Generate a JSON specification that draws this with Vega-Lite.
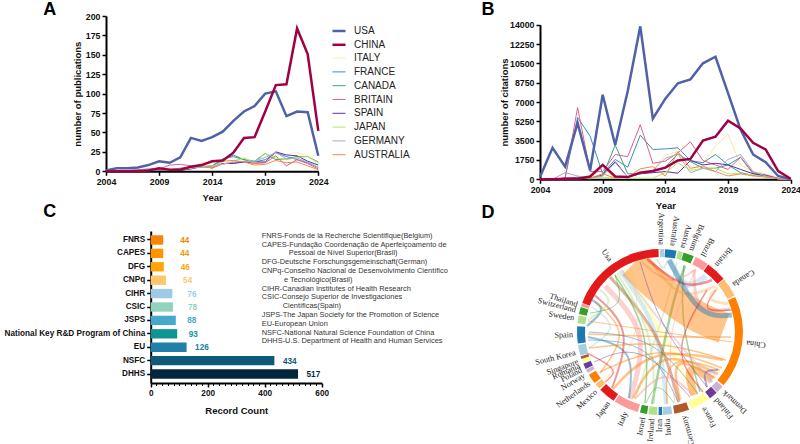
{"$schema":"https://vega.github.io/schema/vega-lite/v6.json","width":800,"height":444,"padding":0,"autosize":{"type":"none"},"background":"white",
"config":{"view":{"stroke":null},"text":{"font":"Liberation Sans"},"axis":{"grid":false,"domainColor":"#000","domainWidth":2,"tickColor":"#000","tickWidth":1.5,"tickSize":4,"labelFont":"Liberation Sans","labelFontWeight":"bold","labelFontSize":8.8,"labelColor":"#111","titleFont":"Liberation Sans","titleFontWeight":"bold","titleFontSize":9.5,"titleColor":"#111","labelOverlap":false,"labelFlush":false}},
"datasets":{
"trend":[
{"year":2004,"country":"ITALY","pubs":0,"cites":0},{"year":2005,"country":"ITALY","pubs":0,"cites":0},{"year":2006,"country":"ITALY","pubs":1,"cites":50},{"year":2007,"country":"ITALY","pubs":1,"cites":50},{"year":2008,"country":"ITALY","pubs":2,"cites":100},{"year":2009,"country":"ITALY","pubs":2,"cites":1000},{"year":2010,"country":"ITALY","pubs":3,"cites":100},{"year":2011,"country":"ITALY","pubs":4,"cites":100},{"year":2012,"country":"ITALY","pubs":6,"cites":700},{"year":2013,"country":"ITALY","pubs":11,"cites":800},{"year":2014,"country":"ITALY","pubs":11,"cites":2200},{"year":2015,"country":"ITALY","pubs":14,"cites":2500},{"year":2016,"country":"ITALY","pubs":14,"cites":900},{"year":2017,"country":"ITALY","pubs":18,"cites":1400},{"year":2018,"country":"ITALY","pubs":12,"cites":3000},{"year":2019,"country":"ITALY","pubs":14,"cites":4100},{"year":2020,"country":"ITALY","pubs":22,"cites":1300},{"year":2021,"country":"ITALY","pubs":22,"cites":700},{"year":2022,"country":"ITALY","pubs":24,"cites":500},{"year":2023,"country":"ITALY","pubs":20,"cites":100},{"year":2024,"country":"ITALY","pubs":8,"cites":0},
{"year":2004,"country":"FRANCE","pubs":0,"cites":0},{"year":2005,"country":"FRANCE","pubs":1,"cites":0},{"year":2006,"country":"FRANCE","pubs":1,"cites":100},{"year":2007,"country":"FRANCE","pubs":2,"cites":5600},{"year":2008,"country":"FRANCE","pubs":3,"cites":3900},{"year":2009,"country":"FRANCE","pubs":3,"cites":500},{"year":2010,"country":"FRANCE","pubs":2,"cites":1800},{"year":2011,"country":"FRANCE","pubs":4,"cites":1100},{"year":2012,"country":"FRANCE","pubs":5,"cites":4000},{"year":2013,"country":"FRANCE","pubs":5,"cites":2700},{"year":2014,"country":"FRANCE","pubs":7,"cites":2750},{"year":2015,"country":"FRANCE","pubs":16,"cites":2850},{"year":2016,"country":"FRANCE","pubs":19,"cites":1700},{"year":2017,"country":"FRANCE","pubs":15,"cites":1500},{"year":2018,"country":"FRANCE","pubs":12,"cites":2250},{"year":2019,"country":"FRANCE","pubs":15,"cites":1300},{"year":2020,"country":"FRANCE","pubs":24,"cites":2000},{"year":2021,"country":"FRANCE","pubs":19,"cites":500},{"year":2022,"country":"FRANCE","pubs":15,"cites":350},{"year":2023,"country":"FRANCE","pubs":11,"cites":50},{"year":2024,"country":"FRANCE","pubs":5,"cites":0},
{"year":2004,"country":"CANADA","pubs":0,"cites":0},{"year":2005,"country":"CANADA","pubs":1,"cites":0},{"year":2006,"country":"CANADA","pubs":1,"cites":50},{"year":2007,"country":"CANADA","pubs":1,"cites":200},{"year":2008,"country":"CANADA","pubs":2,"cites":100},{"year":2009,"country":"CANADA","pubs":2,"cites":300},{"year":2010,"country":"CANADA","pubs":1,"cites":3100},{"year":2011,"country":"CANADA","pubs":2,"cites":500},{"year":2012,"country":"CANADA","pubs":5,"cites":500},{"year":2013,"country":"CANADA","pubs":6,"cites":700},{"year":2014,"country":"CANADA","pubs":7,"cites":1100},{"year":2015,"country":"CANADA","pubs":14,"cites":2300},{"year":2016,"country":"CANADA","pubs":21,"cites":1600},{"year":2017,"country":"CANADA","pubs":15,"cites":1000},{"year":2018,"country":"CANADA","pubs":13,"cites":1000},{"year":2019,"country":"CANADA","pubs":23,"cites":1300},{"year":2020,"country":"CANADA","pubs":15,"cites":600},{"year":2021,"country":"CANADA","pubs":16,"cites":350},{"year":2022,"country":"CANADA","pubs":19,"cites":300},{"year":2023,"country":"CANADA","pubs":19,"cites":50},{"year":2024,"country":"CANADA","pubs":12,"cites":0},
{"year":2004,"country":"BRITAIN","pubs":0,"cites":0},{"year":2005,"country":"BRITAIN","pubs":1,"cites":0},{"year":2006,"country":"BRITAIN","pubs":1,"cites":100},{"year":2007,"country":"BRITAIN","pubs":2,"cites":6500},{"year":2008,"country":"BRITAIN","pubs":2,"cites":700},{"year":2009,"country":"BRITAIN","pubs":3,"cites":700},{"year":2010,"country":"BRITAIN","pubs":8,"cites":2250},{"year":2011,"country":"BRITAIN","pubs":9,"cites":2050},{"year":2012,"country":"BRITAIN","pubs":7,"cites":4950},{"year":2013,"country":"BRITAIN","pubs":7,"cites":1450},{"year":2014,"country":"BRITAIN","pubs":4,"cites":1650},{"year":2015,"country":"BRITAIN","pubs":10,"cites":2400},{"year":2016,"country":"BRITAIN","pubs":11,"cites":3400},{"year":2017,"country":"BRITAIN","pubs":12,"cites":1700},{"year":2018,"country":"BRITAIN","pubs":10,"cites":1300},{"year":2019,"country":"BRITAIN","pubs":11,"cites":900},{"year":2020,"country":"BRITAIN","pubs":20,"cites":2000},{"year":2021,"country":"BRITAIN","pubs":7,"cites":600},{"year":2022,"country":"BRITAIN","pubs":15,"cites":400},{"year":2023,"country":"BRITAIN","pubs":10,"cites":100},{"year":2024,"country":"BRITAIN","pubs":3,"cites":0},
{"year":2004,"country":"SPAIN","pubs":0,"cites":0},{"year":2005,"country":"SPAIN","pubs":0,"cites":0},{"year":2006,"country":"SPAIN","pubs":0,"cites":100},{"year":2007,"country":"SPAIN","pubs":1,"cites":100},{"year":2008,"country":"SPAIN","pubs":1,"cites":100},{"year":2009,"country":"SPAIN","pubs":1,"cites":400},{"year":2010,"country":"SPAIN","pubs":1,"cites":1600},{"year":2011,"country":"SPAIN","pubs":1,"cites":200},{"year":2012,"country":"SPAIN","pubs":3,"cites":500},{"year":2013,"country":"SPAIN","pubs":6,"cites":600},{"year":2014,"country":"SPAIN","pubs":5,"cites":700},{"year":2015,"country":"SPAIN","pubs":10,"cites":550},{"year":2016,"country":"SPAIN","pubs":10,"cites":1700},{"year":2017,"country":"SPAIN","pubs":12,"cites":1300},{"year":2018,"country":"SPAIN","pubs":12,"cites":1450},{"year":2019,"country":"SPAIN","pubs":12,"cites":1300},{"year":2020,"country":"SPAIN","pubs":25,"cites":900},{"year":2021,"country":"SPAIN","pubs":21,"cites":500},{"year":2022,"country":"SPAIN","pubs":20,"cites":350},{"year":2023,"country":"SPAIN","pubs":13,"cites":50},{"year":2024,"country":"SPAIN","pubs":8,"cites":0},
{"year":2004,"country":"JAPAN","pubs":0,"cites":0},{"year":2005,"country":"JAPAN","pubs":0,"cites":0},{"year":2006,"country":"JAPAN","pubs":1,"cites":0},{"year":2007,"country":"JAPAN","pubs":1,"cites":100},{"year":2008,"country":"JAPAN","pubs":1,"cites":50},{"year":2009,"country":"JAPAN","pubs":2,"cites":200},{"year":2010,"country":"JAPAN","pubs":1,"cites":100},{"year":2011,"country":"JAPAN","pubs":2,"cites":100},{"year":2012,"country":"JAPAN","pubs":4,"cites":100},{"year":2013,"country":"JAPAN","pubs":6,"cites":100},{"year":2014,"country":"JAPAN","pubs":7,"cites":600},{"year":2015,"country":"JAPAN","pubs":9,"cites":1500},{"year":2016,"country":"JAPAN","pubs":13,"cites":800},{"year":2017,"country":"JAPAN","pubs":17,"cites":1000},{"year":2018,"country":"JAPAN","pubs":11,"cites":1000},{"year":2019,"country":"JAPAN","pubs":23,"cites":500},{"year":2020,"country":"JAPAN","pubs":17,"cites":500},{"year":2021,"country":"JAPAN","pubs":15,"cites":400},{"year":2022,"country":"JAPAN","pubs":18,"cites":200},{"year":2023,"country":"JAPAN","pubs":19,"cites":50},{"year":2024,"country":"JAPAN","pubs":11,"cites":0},
{"year":2004,"country":"GERMANY","pubs":0,"cites":0},{"year":2005,"country":"GERMANY","pubs":0,"cites":0},{"year":2006,"country":"GERMANY","pubs":1,"cites":600},{"year":2007,"country":"GERMANY","pubs":1,"cites":300},{"year":2008,"country":"GERMANY","pubs":2,"cites":100},{"year":2009,"country":"GERMANY","pubs":2,"cites":300},{"year":2010,"country":"GERMANY","pubs":2,"cites":1500},{"year":2011,"country":"GERMANY","pubs":3,"cites":200},{"year":2012,"country":"GERMANY","pubs":5,"cites":500},{"year":2013,"country":"GERMANY","pubs":5,"cites":800},{"year":2014,"country":"GERMANY","pubs":5,"cites":1900},{"year":2015,"country":"GERMANY","pubs":9,"cites":2300},{"year":2016,"country":"GERMANY","pubs":12,"cites":600},{"year":2017,"country":"GERMANY","pubs":13,"cites":1000},{"year":2018,"country":"GERMANY","pubs":13,"cites":700},{"year":2019,"country":"GERMANY","pubs":18,"cites":1800},{"year":2020,"country":"GERMANY","pubs":24,"cites":2250},{"year":2021,"country":"GERMANY","pubs":16,"cites":700},{"year":2022,"country":"GERMANY","pubs":17,"cites":300},{"year":2023,"country":"GERMANY","pubs":12,"cites":50},{"year":2024,"country":"GERMANY","pubs":5,"cites":0},
{"year":2004,"country":"AUSTRALIA","pubs":0,"cites":0},{"year":2005,"country":"AUSTRALIA","pubs":0,"cites":0},{"year":2006,"country":"AUSTRALIA","pubs":0,"cites":0},{"year":2007,"country":"AUSTRALIA","pubs":1,"cites":100},{"year":2008,"country":"AUSTRALIA","pubs":1,"cites":100},{"year":2009,"country":"AUSTRALIA","pubs":3,"cites":500},{"year":2010,"country":"AUSTRALIA","pubs":2,"cites":100},{"year":2011,"country":"AUSTRALIA","pubs":2,"cites":200},{"year":2012,"country":"AUSTRALIA","pubs":5,"cites":950},{"year":2013,"country":"AUSTRALIA","pubs":8,"cites":1150},{"year":2014,"country":"AUSTRALIA","pubs":4,"cites":300},{"year":2015,"country":"AUSTRALIA","pubs":13,"cites":2500},{"year":2016,"country":"AUSTRALIA","pubs":14,"cites":1000},{"year":2017,"country":"AUSTRALIA","pubs":12,"cites":1200},{"year":2018,"country":"AUSTRALIA","pubs":8,"cites":700},{"year":2019,"country":"AUSTRALIA","pubs":9,"cites":300},{"year":2020,"country":"AUSTRALIA","pubs":14,"cites":500},{"year":2021,"country":"AUSTRALIA","pubs":11,"cites":300},{"year":2022,"country":"AUSTRALIA","pubs":12,"cites":200},{"year":2023,"country":"AUSTRALIA","pubs":7,"cites":50},{"year":2024,"country":"AUSTRALIA","pubs":2,"cites":0},
{"year":2004,"country":"USA","pubs":1,"cites":200},{"year":2005,"country":"USA","pubs":4,"cites":2850},{"year":2006,"country":"USA","pubs":4,"cites":1150},{"year":2007,"country":"USA","pubs":5,"cites":5100},{"year":2008,"country":"USA","pubs":8,"cites":800},{"year":2009,"country":"USA","pubs":13,"cites":7650},{"year":2010,"country":"USA","pubs":11,"cites":3100},{"year":2011,"country":"USA","pubs":18,"cites":8000},{"year":2012,"country":"USA","pubs":43,"cites":13850},{"year":2013,"country":"USA","pubs":39,"cites":5500},{"year":2014,"country":"USA","pubs":44,"cites":7300},{"year":2015,"country":"USA","pubs":51,"cites":8700},{"year":2016,"country":"USA","pubs":65,"cites":9050},{"year":2017,"country":"USA","pubs":77,"cites":10500},{"year":2018,"country":"USA","pubs":84,"cites":11100},{"year":2019,"country":"USA","pubs":100,"cites":7800},{"year":2020,"country":"USA","pubs":103,"cites":4500},{"year":2021,"country":"USA","pubs":71,"cites":2250},{"year":2022,"country":"USA","pubs":77,"cites":1550},{"year":2023,"country":"USA","pubs":76,"cites":300},{"year":2024,"country":"USA","pubs":20,"cites":0},
{"year":2004,"country":"CHINA","pubs":0,"cites":0},{"year":2005,"country":"CHINA","pubs":0,"cites":0},{"year":2006,"country":"CHINA","pubs":0,"cites":50},{"year":2007,"country":"CHINA","pubs":0,"cites":50},{"year":2008,"country":"CHINA","pubs":1,"cites":250},{"year":2009,"country":"CHINA","pubs":4,"cites":1300},{"year":2010,"country":"CHINA","pubs":2,"cites":250},{"year":2011,"country":"CHINA","pubs":2,"cites":200},{"year":2012,"country":"CHINA","pubs":6,"cites":600},{"year":2013,"country":"CHINA","pubs":8,"cites":750},{"year":2014,"country":"CHINA","pubs":13,"cites":1050},{"year":2015,"country":"CHINA","pubs":14,"cites":1700},{"year":2016,"country":"CHINA","pubs":24,"cites":1850},{"year":2017,"country":"CHINA","pubs":43,"cites":3500},{"year":2018,"country":"CHINA","pubs":44,"cites":3850},{"year":2019,"country":"CHINA","pubs":77,"cites":5300},{"year":2020,"country":"CHINA","pubs":111,"cites":4600},{"year":2021,"country":"CHINA","pubs":112,"cites":3300},{"year":2022,"country":"CHINA","pubs":184,"cites":2700},{"year":2023,"country":"CHINA","pubs":151,"cites":750},{"year":2024,"country":"CHINA","pubs":52,"cites":50}
],
"funders":[{"funder":"FNRS","count":44},{"funder":"CAPES","count":44},{"funder":"DFG","count":46},{"funder":"CNPq","count":54},{"funder":"CIHR","count":76},{"funder":"CSIC","count":78},{"funder":"JSPS","count":88},{"funder":"National Key R&D Program of China","count":93},{"funder":"EU","count":126},{"funder":"NSFC","count":434},{"funder":"DHHS","count":517}],
"glossary":[{"line":0,"indent":0,"t":"FNRS-Fonds de la Recherche Scientifique(Belgium)"},{"line":1,"indent":0,"t":"CAPES-Fundação Coordenação de Aperfeiçoamento de"},{"line":2,"indent":27,"t":"Pessoal de Nível Superior(Brasil)"},{"line":3,"indent":0,"t":"DFG-Deutsche Forschungsgemeinschaft(German)"},{"line":4,"indent":0,"t":"CNPq-Conselho Nacional de Desenvolvimento Científico"},{"line":5,"indent":22.3,"t":"e Tecnológico(Brasil)"},{"line":6,"indent":0,"t":"CIHR-Canadian Institutes of Health Research"},{"line":7,"indent":0,"t":"CSIC-Consejo Superior de Investigaciones"},{"line":8,"indent":21,"t":"Científicas(Spain)"},{"line":9,"indent":0,"t":"JSPS-The Japan Society for the Promotion of Science"},{"line":10,"indent":0,"t":"EU-European Union"},{"line":11,"indent":0,"t":"NSFC-National Natural Science Foundation of China"},{"line":12,"indent":0,"t":"DHHS-U.S. Department of Health and Human Services"}],
"sectors":[{"c":"Argentina","a":0,"b":3,"m":0.5},{"c":"Australia","a":3.5,"b":11.5,"m":8},{"c":"Austria","a":12.5,"b":16,"m":15},{"c":"Belgium","a":16.5,"b":24,"m":21},{"c":"Brazil","a":25.5,"b":35,"m":29},{"c":"Britain","a":35.5,"b":50,"m":40},{"c":"Canada","a":50.5,"b":64,"m":57},{"c":"China","a":65,"b":130,"m":97},{"c":"Denmark","a":131,"b":136.5,"m":133},{"c":"Finland","a":137,"b":143,"m":140},{"c":"France","a":144,"b":158,"m":150},{"c":"Germany","a":159.5,"b":170,"m":164},{"c":"India","a":171.5,"b":178,"m":175},{"c":"Iran","a":178.5,"b":181,"m":180},{"c":"Ireland","a":182,"b":188,"m":185},{"c":"Israel","a":189,"b":194,"m":191},{"c":"Italy","a":195.5,"b":213,"m":203},{"c":"Japan","a":214,"b":226,"m":216},{"c":"Mexico","a":227,"b":231,"m":227},{"c":"Netherlands","a":232,"b":239,"m":234},{"c":"Norway","a":240.5,"b":243,"m":240},{"c":"Poland","a":243.5,"b":247.5,"m":244},{"c":"Romania","a":248,"b":250.5,"m":247},{"c":"Singapore","a":251,"b":253,"m":250},{"c":"South Korea","a":253.5,"b":261,"m":256},{"c":"Spain","a":262,"b":274,"m":268},{"c":"Sweden","a":276,"b":281.5,"m":279},{"c":"Switzerland","a":282.5,"b":287.5,"m":284.3},{"c":"Thailand","a":288,"b":290,"m":288},{"c":"Usa","a":290.5,"b":359,"m":325}],
"chords":[
{"id":1,"s":0,"from":"France","w":5,"x":-36,"y":63},{"id":1,"s":1,"from":"France","w":5,"x":0,"y":5},{"id":1,"s":2,"from":"France","w":5,"x":35,"y":-63},
{"id":2,"s":0,"from":"China","w":8,"x":52,"y":-48},{"id":2,"s":1,"from":"China","w":8,"x":25,"y":-30},{"id":2,"s":2,"from":"China","w":8,"x":34,"y":-63},
{"id":3,"s":0,"from":"India","w":4,"x":-40,"y":61},{"id":3,"s":1,"from":"India","w":4,"x":0,"y":5},{"id":3,"s":2,"from":"India","w":4,"x":6,"y":-72},
{"id":4,"s":0,"from":"Italy","w":5,"x":-55,"y":46},{"id":4,"s":1,"from":"Italy","w":5,"x":-10,"y":0},{"id":4,"s":2,"from":"Italy","w":5,"x":-30,"y":-67},
{"id":5,"s":0,"from":"Spain","w":2,"x":-72,"y":-5},{"id":5,"s":1,"from":"Spain","w":2,"x":-25,"y":-15},{"id":5,"s":2,"from":"Spain","w":2,"x":-31,"y":-66},
{"id":6,"s":0,"from":"Argentina","w":6,"x":10,"y":72},{"id":6,"s":1,"from":"Argentina","w":6,"x":25,"y":40},{"id":6,"s":2,"from":"Argentina","w":6,"x":46,"y":56},
{"id":7,"s":0,"from":"Belgium","w":2.5,"x":25,"y":66},{"id":7,"s":1,"from":"Belgium","w":2.5,"x":12,"y":30},{"id":7,"s":2,"from":"Belgium","w":2.5,"x":-8,"y":-72},
{"id":8,"s":0,"from":"Austria","w":1.5,"x":17,"y":70},{"id":8,"s":1,"from":"Austria","w":1.5,"x":8,"y":30},{"id":8,"s":2,"from":"Austria","w":1.5,"x":-25,"y":-67},
{"id":9,"s":0,"from":"Belgium","w":1.5,"x":24,"y":67},{"id":9,"s":1,"from":"Belgium","w":1.5,"x":20,"y":10},{"id":9,"s":2,"from":"Belgium","w":1.5,"x":40,"y":-60},
{"id":10,"s":0,"from":"Canada","w":3,"x":-10,"y":72},{"id":10,"s":1,"from":"Canada","w":3,"x":20,"y":30},{"id":10,"s":2,"from":"Canada","w":3,"x":55,"y":46},
{"id":11,"s":0,"from":"Brazil","w":2,"x":-18,"y":70},{"id":11,"s":1,"from":"Brazil","w":2,"x":10,"y":45},{"id":11,"s":2,"from":"Brazil","w":2,"x":36,"y":63},
{"id":15,"s":0,"from":"China","w":31,"x":-27,"y":68},{"id":15,"s":1,"from":"China","w":31,"x":25.7,"y":18.5},{"id":15,"s":2,"from":"China","w":31,"x":64,"y":4},
{"id":12,"s":0,"from":"Brazil","w":3,"x":34,"y":62},{"id":12,"s":1,"from":"Brazil","w":3,"x":35,"y":18},{"id":12,"s":2,"from":"Brazil","w":3,"x":70,"y":23},
{"id":13,"s":0,"from":"Usa","w":1.5,"x":56,"y":42},{"id":13,"s":1,"from":"Usa","w":1.5,"x":40,"y":20},{"id":13,"s":2,"from":"Usa","w":1.5,"x":72,"y":22},
{"id":14,"s":0,"from":"Canada","w":3,"x":58,"y":44},{"id":14,"s":1,"from":"Canada","w":3,"x":44,"y":32},{"id":14,"s":2,"from":"Canada","w":3,"x":68,"y":28},
{"id":16,"s":0,"from":"Spain","w":5,"x":9,"y":72},{"id":16,"s":1,"from":"Spain","w":5,"x":39,"y":14},{"id":16,"s":2,"from":"Spain","w":5,"x":72,"y":17},
{"id":17,"s":0,"from":"Britain","w":2.5,"x":52,"y":52},{"id":17,"s":1,"from":"Britain","w":2.5,"x":24.5,"y":41.7},{"id":17,"s":2,"from":"Britain","w":2.5,"x":-13,"y":73},
{"id":18,"s":0,"from":"Britain","w":1.5,"x":47,"y":42},{"id":18,"s":1,"from":"Britain","w":1.5,"x":10,"y":-20},{"id":18,"s":2,"from":"Britain","w":1.5,"x":43,"y":-60},
{"id":19,"s":0,"from":"Argentina","w":2,"x":-3,"y":73},{"id":19,"s":1,"from":"Argentina","w":2,"x":3,"y":60},{"id":19,"s":2,"from":"Argentina","w":2,"x":8,"y":72},
{"id":20,"s":0,"from":"Germany","w":3,"x":-50,"y":55},{"id":20,"s":1,"from":"Germany","w":3,"x":0,"y":0},{"id":20,"s":2,"from":"Germany","w":3,"x":19,"y":-70},
{"id":21,"s":0,"from":"Usa","w":2,"x":-68,"y":39},{"id":21,"s":1,"from":"Usa","w":2,"x":-26.5,"y":3.7},{"id":21,"s":2,"from":"Usa","w":2,"x":-48,"y":-56},
{"id":22,"s":0,"from":"Spain","w":2.5,"x":-73,"y":6},{"id":22,"s":1,"from":"Spain","w":2.5,"x":-53,"y":23},{"id":22,"s":2,"from":"Spain","w":2.5,"x":-68,"y":32},
{"id":23,"s":0,"from":"Netherlands","w":1.5,"x":-65,"y":30},{"id":23,"s":1,"from":"Netherlands","w":1.5,"x":-30,"y":0},{"id":23,"s":2,"from":"Netherlands","w":1.5,"x":-60,"y":-41},
{"id":24,"s":0,"from":"South Korea","w":1.5,"x":-68,"y":25},{"id":24,"s":1,"from":"South Korea","w":1.5,"x":-40,"y":5},{"id":24,"s":2,"from":"South Korea","w":1.5,"x":-71,"y":-16},
{"id":25,"s":0,"from":"Israel","w":1.5,"x":-45,"y":57},{"id":25,"s":1,"from":"Israel","w":1.5,"x":-10,"y":0},{"id":25,"s":2,"from":"Israel","w":1.5,"x":-15,"y":-71},
{"id":26,"s":0,"from":"Ireland","w":2,"x":-43,"y":59},{"id":26,"s":1,"from":"Ireland","w":2,"x":-6,"y":0},{"id":26,"s":2,"from":"Ireland","w":2,"x":-6,"y":-72},
{"id":27,"s":0,"from":"China","w":2.5,"x":63,"y":-28},{"id":27,"s":1,"from":"China","w":2.5,"x":-8.5,"y":-15},{"id":27,"s":2,"from":"China","w":2.5,"x":-47,"y":-57},
{"id":28,"s":0,"from":"China","w":2.5,"x":58,"y":-42},{"id":28,"s":1,"from":"China","w":2.5,"x":0,"y":-15},{"id":28,"s":2,"from":"China","w":2.5,"x":-27,"y":-66},
{"id":29,"s":0,"from":"China","w":2.5,"x":55,"y":-46},{"id":29,"s":1,"from":"China","w":2.5,"x":10,"y":-20},{"id":29,"s":2,"from":"China","w":2.5,"x":20,"y":-68},
{"id":30,"s":0,"from":"China","w":1.5,"x":60,"y":-38},{"id":30,"s":1,"from":"China","w":1.5,"x":5,"y":-20},{"id":30,"s":2,"from":"China","w":1.5,"x":7,"y":-72},
{"id":31,"s":0,"from":"China","w":1.5,"x":71,"y":-5},{"id":31,"s":1,"from":"China","w":1.5,"x":0,"y":-5},{"id":31,"s":2,"from":"China","w":1.5,"x":-72,"y":-2},
{"id":32,"s":0,"from":"China","w":1.5,"x":66,"y":-28},{"id":32,"s":1,"from":"China","w":1.5,"x":0,"y":-8},{"id":32,"s":2,"from":"China","w":1.5,"x":-71,"y":-16},
{"id":33,"s":0,"from":"China","w":1,"x":72,"y":-10},{"id":33,"s":1,"from":"China","w":1,"x":0,"y":0},{"id":33,"s":2,"from":"China","w":1,"x":-72,"y":11},
{"id":34,"s":0,"from":"China","w":1.5,"x":62,"y":-36},{"id":34,"s":1,"from":"China","w":1.5,"x":0,"y":-12},{"id":34,"s":2,"from":"China","w":1.5,"x":-60,"y":-40},
{"id":35,"s":0,"from":"Denmark","w":2.5,"x":56,"y":-42},{"id":35,"s":1,"from":"Denmark","w":2.5,"x":46,"y":-38},{"id":35,"s":2,"from":"Denmark","w":2.5,"x":52,"y":-50},
{"id":36,"s":0,"from":"Finland","w":2,"x":58,"y":-38},{"id":36,"s":1,"from":"Finland","w":2,"x":42,"y":-38},{"id":36,"s":2,"from":"Finland","w":2,"x":47,"y":-55},
{"id":37,"s":0,"from":"Spain","w":1,"x":-72,"y":-8},{"id":37,"s":1,"from":"Spain","w":1,"x":-10,"y":-10},{"id":37,"s":2,"from":"Spain","w":1,"x":18,"y":-70},
{"id":38,"s":0,"from":"Spain","w":1,"x":-71,"y":0},{"id":38,"s":1,"from":"Spain","w":1,"x":-5,"y":-5},{"id":38,"s":2,"from":"Spain","w":1,"x":38,"y":-62},
{"id":39,"s":0,"from":"Usa","w":1.5,"x":-73,"y":-21},{"id":39,"s":1,"from":"Usa","w":1.5,"x":-39.5,"y":-38},{"id":39,"s":2,"from":"Usa","w":1.5,"x":-55,"y":-50},
{"id":40,"s":0,"from":"Israel","w":1,"x":-14,"y":-71},{"id":40,"s":1,"from":"Israel","w":1,"x":-3,"y":-48},{"id":40,"s":2,"from":"Israel","w":1,"x":14,"y":-71},
{"id":41,"s":0,"from":"Italy","w":2,"x":-25,"y":-67},{"id":41,"s":1,"from":"Italy","w":2,"x":5,"y":-35},{"id":41,"s":2,"from":"Italy","w":2,"x":33,"y":-63},
{"id":42,"s":0,"from":"Denmark","w":2,"x":52,"y":-50},{"id":42,"s":1,"from":"Denmark","w":2,"x":0,"y":10},{"id":42,"s":2,"from":"Denmark","w":2,"x":-38,"y":62},
{"id":43,"s":0,"from":"Finland","w":1,"x":47,"y":-55},{"id":43,"s":1,"from":"Finland","w":1,"x":0,"y":5},{"id":43,"s":2,"from":"Finland","w":1,"x":-20,"y":70},
{"id":44,"s":0,"from":"Sweden","w":2,"x":-72,"y":12},{"id":44,"s":1,"from":"Sweden","w":2,"x":-45,"y":30},{"id":44,"s":2,"from":"Sweden","w":2,"x":-60,"y":42},
{"id":45,"s":0,"from":"Switzerland","w":1,"x":-70,"y":19},{"id":45,"s":1,"from":"Switzerland","w":1,"x":-35,"y":25},{"id":45,"s":2,"from":"Switzerland","w":1,"x":-45,"y":57},
{"id":46,"s":0,"from":"Brazil","w":1,"x":36,"y":62},{"id":46,"s":1,"from":"Brazil","w":1,"x":5,"y":0},{"id":46,"s":2,"from":"Brazil","w":1,"x":15,"y":-71},
{"id":47,"s":0,"from":"Poland","w":1,"x":-66,"y":-30},{"id":47,"s":1,"from":"Poland","w":1,"x":-20,"y":-10},{"id":47,"s":2,"from":"Poland","w":1,"x":30,"y":-65},
{"id":48,"s":0,"from":"Mexico","w":1,"x":-55,"y":-48},{"id":48,"s":1,"from":"Mexico","w":1,"x":-15,"y":0},{"id":48,"s":2,"from":"Mexico","w":1,"x":-30,"y":66}
]},
"resolve":{"scale":{"x":"independent","y":"independent","color":"independent","strokeWidth":"independent","theta":"independent","angle":"independent"},"axis":{"x":"independent","y":"independent"},"legend":{"color":"independent","strokeWidth":"independent"}},
"layer":[
{"data":{"name":"trend"},"mark":{"type":"line","clip":false},"encoding":{
"x":{"field":"year","type":"quantitative","scale":{"domain":[2004,2024],"range":[106,318.3],"nice":false,"zero":false},"axis":{"orient":"bottom","values":[2004,2009,2014,2019,2024],"format":"d","title":"Year","offset":-272.7,"titlePadding":6}},
"y":{"field":"pubs","type":"quantitative","scale":{"domain":[0,200],"range":[171.3,16],"nice":false},"axis":{"orient":"left","values":[0,25,50,75,100,125,150,175,200],"title":"number of publications","offset":-106,"titlePadding":3}},
"color":{"field":"country","type":"nominal","scale":{"domain":["USA","CHINA","ITALY","FRANCE","CANADA","BRITAIN","SPAIN","JAPAN","GERMANY","AUSTRALIA"],"range":["#4f62a8","#a00045","#f6f3a6","#3a8fbf","#3aa07c","#e0608f","#5a2ea6","#b4e860","#a9a9cc","#f58b4c"]},"legend":{"title":null,"orient":"none","legendX":331,"legendY":23,"padding":0,"symbolType":"stroke","symbolSize":170,"rowPadding":0.8,"labelFont":"Liberation Sans","labelFontSize":10,"labelColor":"#222","labelOffset":7}},
"strokeWidth":{"field":"country","type":"nominal","scale":{"type":"ordinal","domain":["USA","CHINA","ITALY","FRANCE","CANADA","BRITAIN","SPAIN","JAPAN","GERMANY","AUSTRALIA"],"range":[2.5,2.5,1,1,1,1,1,1,1,1]},"legend":{"title":null,"orient":"none","legendX":331,"legendY":23,"padding":0,"symbolType":"stroke","symbolSize":170,"rowPadding":0.8,"labelFont":"Liberation Sans","labelFontSize":10,"labelColor":"#222","labelOffset":7}}}},
{"data":{"values":[{"letter":"A","year":1998.7,"n":208}]},"mark":{"type":"text","fontWeight":"bold","fontSize":18,"color":"#000"},"encoding":{"text":{"field":"letter"},
"x":{"field":"year","type":"quantitative","scale":{"domain":[2004,2024],"range":[106,318.3],"nice":false,"zero":false},"axis":null},
"y":{"field":"n","type":"quantitative","scale":{"domain":[0,200],"range":[171.3,16],"nice":false},"axis":null}}},
{"data":{"name":"trend"},"mark":{"type":"line","clip":false},"encoding":{
"x":{"field":"year","type":"quantitative","scale":{"domain":[2004,2024],"range":[540,790.7],"nice":false,"zero":false},"axis":{"orient":"bottom","values":[2004,2009,2014,2019,2024],"format":"d","title":"Year","offset":-264.7,"titlePadding":6}},
"y":{"field":"cites","type":"quantitative","scale":{"domain":[0,14000],"range":[179.3,24.7],"nice":false},"axis":{"orient":"left","format":"d","values":[0,1750,3500,5250,7000,8750,10500,12250,14000],"title":"number of citations","offset":-540,"titlePadding":0}},
"color":{"field":"country","type":"nominal","scale":{"domain":["USA","CHINA","ITALY","FRANCE","CANADA","BRITAIN","SPAIN","JAPAN","GERMANY","AUSTRALIA"],"range":["#4f62a8","#a00045","#f6e9a0","#3a8fbf","#3aa07c","#e0608f","#5a2ea6","#b4e860","#a9a9cc","#f58b4c"]},"legend":null},
"strokeWidth":{"field":"country","type":"nominal","scale":{"type":"ordinal","domain":["USA","CHINA","ITALY","FRANCE","CANADA","BRITAIN","SPAIN","JAPAN","GERMANY","AUSTRALIA"],"range":[2.5,2.5,1,1,1,1,1,1,1,1]},"legend":null}}},
{"data":{"values":[{"letter":"B","year":1999.85,"cites":15350}]},"mark":{"type":"text","fontWeight":"bold","fontSize":18,"color":"#000"},"encoding":{"text":{"field":"letter"},
"x":{"field":"year","type":"quantitative","scale":{"domain":[2004,2024],"range":[540,790.7],"nice":false,"zero":false},"axis":null},
"y":{"field":"cites","type":"quantitative","scale":{"domain":[0,14000],"range":[179.3,24.7],"nice":false},"axis":null}}},
{"data":{"name":"funders"},"resolve":{"axis":{"x":"independent","y":"independent"}},"layer":[
{"mark":{"type":"bar"},"encoding":{
"x":{"field":"count","type":"quantitative","scale":{"domain":[0,600],"range":[150.7,321.7],"nice":false},"axis":{"orient":"bottom","values":[0,200,400,600],"title":"Record Count","offset":-61,"titlePadding":9,"labelFontSize":8.2}},
"y":{"field":"funder","type":"nominal","sort":null,"scale":{"domain":["FNRS","CAPES","DFG","CNPq","CIHR","CSIC","JSPS","National Key R&D Program of China","EU","NSFC","DHHS"],"range":[231,383],"paddingInner":0.3,"paddingOuter":0.32},"axis":{"orient":"left","title":null,"offset":-150.7,"labelLimit":300,"labelFontSize":8.2}},
"color":{"field":"funder","type":"nominal","scale":{"domain":["FNRS","CAPES","DFG","CNPq","CIHR","CSIC","JSPS","National Key R&D Program of China","EU","NSFC","DHHS"],"range":["#fb8500","#fd9500","#ffa50a","#ffc76b","#9ecae6","#90d4bd","#46a8cc","#0f9494","#2080a8","#0f5a78","#03263e"]},"legend":null}}},
{"transform":[{"filter":"datum.count <= 54"}],"mark":{"type":"text","align":"left","baseline":"middle","dx":17,"dy":1,"fontWeight":"bold","fontSize":8.2},"encoding":{"text":{"field":"count"},
"x":{"field":"count","type":"quantitative","axis":{"orient":"bottom","values":[20,40,60,80,100,120,140,160,180,220,240,260,280,300,320,340,360,380,420,440,460,480,500,520,540,560,580],"labels":false,"domain":false,"title":null,"tickSize":2.5,"tickWidth":1,"offset":-61}},
"y":{"field":"funder","type":"nominal","sort":null,"axis":null},"color":{"field":"funder","type":"nominal","legend":null}}},
{"transform":[{"filter":"datum.count > 54 && datum.count <= 78"}],"mark":{"type":"text","align":"left","baseline":"middle","dx":15,"dy":1,"fontWeight":"bold","fontSize":8.2},"encoding":{"text":{"field":"count"},
"x":{"field":"count","type":"quantitative","axis":null},"y":{"field":"funder","type":"nominal","sort":null,"axis":null},"color":{"field":"funder","type":"nominal","legend":null}}},
{"transform":[{"filter":"datum.count > 78 && datum.count <= 93"}],"mark":{"type":"text","align":"left","baseline":"middle","dx":11.5,"dy":1,"fontWeight":"bold","fontSize":8.2},"encoding":{"text":{"field":"count"},
"x":{"field":"count","type":"quantitative","axis":null},"y":{"field":"funder","type":"nominal","sort":null,"axis":null},"color":{"field":"funder","type":"nominal","legend":null}}},
{"transform":[{"filter":"datum.count > 93"}],"mark":{"type":"text","align":"left","baseline":"middle","dx":8.5,"dy":1,"fontWeight":"bold","fontSize":8.2},"encoding":{"text":{"field":"count"},
"x":{"field":"count","type":"quantitative","axis":null},"y":{"field":"funder","type":"nominal","sort":null,"axis":null},"color":{"field":"funder","type":"nominal","legend":null}}}
]},
{"data":{"name":"glossary"},"mark":{"type":"text","align":"left","baseline":"middle","fontSize":7.4,"color":"#333"},"encoding":{"text":{"field":"t"},
"x":{"field":"indent","type":"quantitative","scale":{"domain":[0,100],"range":[261.7,361.7],"nice":false},"axis":null},
"y":{"field":"line","type":"quantitative","scale":{"domain":[0,12],"range":[235.7,341.3],"nice":false},"axis":null}}},
{"data":{"values":[{"letter":"C","indent":-212,"line":-2.7}]},"mark":{"type":"text","fontWeight":"bold","fontSize":18,"color":"#000"},"encoding":{"text":{"field":"letter"},
"x":{"field":"indent","type":"quantitative","scale":{"domain":[0,100],"range":[261.7,361.7],"nice":false},"axis":null},
"y":{"field":"line","type":"quantitative","scale":{"domain":[0,12],"range":[235.7,341.3],"nice":false},"axis":null}}},
{"layer":[
{"data":{"name":"chords"},"mark":{"type":"line","interpolate":"basis","opacity":0.45,"strokeCap":"butt"},"encoding":{
"x":{"field":"x","type":"quantitative","scale":{"domain":[-100,100],"range":[560,760],"nice":false},"axis":null},
"y":{"field":"y","type":"quantitative","scale":{"domain":[-100,100],"range":[432,232],"nice":false},"axis":null},
"detail":{"field":"id"},"order":{"field":"s"},
"strokeWidth":{"field":"w","type":"quantitative","scale":{"domain":[0,30],"range":[0,30]},"legend":null},
"color":{"field":"from","type":"nominal","scale":{"domain":["Argentina","Australia","Austria","Belgium","Brazil","Britain","Canada","China","Denmark","Finland","France","Germany","India","Iran","Ireland","Israel","Italy","Japan","Mexico","Netherlands","Norway","Poland","Romania","Singapore","South Korea","Spain","Sweden","Switzerland","Thailand","Usa"],"range":["#a6cee3","#1f78b4","#b2df8a","#33a02c","#fb9a99","#e31a1c","#fdbf6f","#ff7f00","#cab2d6","#6a3d9a","#ffff99","#b15928","#a6cee3","#1f78b4","#b2df8a","#33a02c","#fb9a99","#e31a1c","#fdbf6f","#ff7f00","#cab2d6","#6a3d9a","#ffff99","#b15928","#a6cee3","#1f78b4","#b2df8a","#33a02c","#fb9a99","#e31a1c"]},"legend":null}}},
{"data":{"name":"sectors"},"mark":{"type":"arc","radius":83,"radius2":75},"encoding":{
"x":{"datum":0,"type":"quantitative","scale":{"domain":[-100,100],"range":[560,760],"nice":false},"axis":null},
"y":{"datum":0,"type":"quantitative","scale":{"domain":[-100,100],"range":[432,232],"nice":false},"axis":null},
"theta":{"field":"a","type":"quantitative","stack":null,"scale":{"domain":[0,360]}},"theta2":{"field":"b"},
"color":{"field":"c","type":"nominal","legend":null}}},
{"data":{"name":"sectors"},"mark":{"type":"text","font":"Liberation Serif","fontSize":8.2,"align":"right","baseline":"middle","radius":87,"color":"#222"},"encoding":{
"x":{"datum":0,"type":"quantitative","scale":{"domain":[-100,100],"range":[560,760],"nice":false},"axis":null},
"y":{"datum":0,"type":"quantitative","scale":{"domain":[-100,100],"range":[432,232],"nice":false},"axis":null},
"theta":{"field":"m","type":"quantitative","stack":null,"scale":{"domain":[0,360]}},
"angle":{"field":"m","type":"quantitative","scale":{"domain":[0,360],"range":[90,450]}},
"text":{"field":"c"}}},
{"data":{"values":[{"letter":"D","x":-172,"y":119}]},"mark":{"type":"text","fontWeight":"bold","fontSize":18,"color":"#000"},"encoding":{"text":{"field":"letter"},
"x":{"field":"x","type":"quantitative","scale":{"domain":[-100,100],"range":[560,760],"nice":false},"axis":null},
"y":{"field":"y","type":"quantitative","scale":{"domain":[-100,100],"range":[432,232],"nice":false},"axis":null}}}
]}
]}
